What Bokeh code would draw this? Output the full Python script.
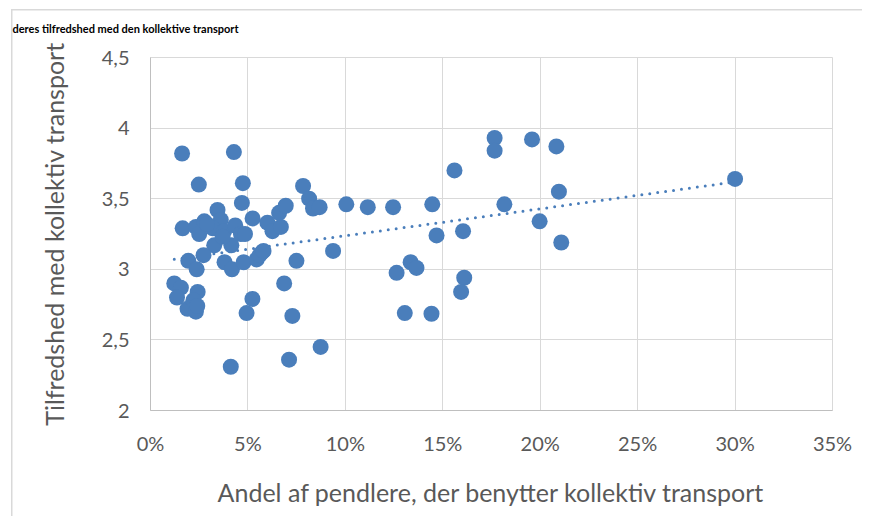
from bokeh.plotting import figure
from bokeh.models import Range1d, FixedTicker
from bokeh.embed import file_html
from bokeh.resources import INLINE
import numpy as np

# Share of commuters using public transport (%)
share_pct = [
    1.62, 4.28, 2.48, 4.74, 4.69, 3.44, 5.24, 1.65, 2.33, 2.76,
    2.50, 3.61, 3.20, 3.78, 4.35, 4.64, 4.85, 3.27, 4.15, 2.72,
    1.94, 2.37, 3.80, 4.18, 4.78, 5.45, 5.72, 6.00, 6.26, 6.69,
    6.60, 6.94, 7.83, 8.14, 8.34, 8.68, 10.05, 11.15, 12.45, 14.46,
    15.60, 17.66, 17.66, 19.58, 20.83, 20.96, 18.16, 19.97, 21.08, 14.68,
    16.04, 13.35, 13.65, 12.63, 16.10, 15.94, 13.05, 14.42, 30.00, 9.37,
    7.49, 6.86, 5.23, 4.93, 7.28, 7.11, 8.73, 4.12, 1.22, 1.56,
    1.36, 2.42, 1.90, 2.33, 2.20, 2.40, 5.60, 3.70, 2.90, 5.80,
]
# Satisfaction with public transport
satisfaction = [
    3.82, 3.83, 3.60, 3.61, 3.47, 3.42, 3.36, 3.29, 3.30, 3.34,
    3.25, 3.35, 3.29, 3.27, 3.31, 3.25, 3.25, 3.17, 3.17, 3.10,
    3.06, 3.00, 3.05, 3.00, 3.05, 3.07, 3.12, 3.33, 3.27, 3.30,
    3.40, 3.45, 3.59, 3.50, 3.43, 3.44, 3.46, 3.44, 3.44, 3.46,
    3.70, 3.93, 3.84, 3.92, 3.87, 3.55, 3.46, 3.34, 3.19, 3.24,
    3.27, 3.05, 3.01, 2.975, 2.94, 2.84, 2.69, 2.685, 3.64, 3.13,
    3.06, 2.90, 2.79, 2.69, 2.67, 2.36, 2.45, 2.31, 2.90, 2.87,
    2.80, 2.84, 2.72, 2.70, 2.78, 2.74, 3.10, 3.23, 3.32, 3.13,
]

x_ticks = [0, 5, 10, 15, 20, 25, 30, 35]
x_tick_labels = ["0%", "5%", "10%", "15%", "20%", "25%", "30%", "35%"]
y_ticks = [2, 2.5, 3, 3.5, 4, 4.5]
y_tick_labels = ["2", "2,5", "3", "3,5", "4", "4,5"]

title_text = "deres tilfredshed med den kollektive transport"
x_title = "Andel af pendlere, der benytter kollektiv transport"
y_title = "Tilfredshed med kollektiv transport"

BLUE = "#4a7ebb"
FONT = "Lato"
GRAY_TXT = "#595959"
BORDER = "#d9d9d9"

p = figure(width=862, height=516, output_backend="svg", toolbar_location=None,
           x_range=Range1d(0, 35), y_range=Range1d(2, 4.5),
           min_border_left=150, min_border_right=30,
           min_border_top=56, min_border_bottom=106,
           background_fill_color="white", border_fill_color=None)

# light outer chart border (left and top edges; the rest runs off the picture)
p.styles = {
    "background": (f"linear-gradient({BORDER}, {BORDER}) 11px 9px / 1.5px 100% no-repeat, "
                   f"linear-gradient({BORDER}, {BORDER}) 11px 9px / 100% 1.5px no-repeat, white"),
}

# chart title in the top strip
p.title.text = title_text
p.title.text_font = FONT
p.title.text_font_style = "bold"
p.title.text_font_size = "11px"
p.title.text_color = "black"
p.title.align = "left"
p.title.vertical_align = "top"
p.title.offset = -138
p.title.standoff = 42

p.outline_line_color = BORDER

p.xaxis.ticker = FixedTicker(ticks=x_ticks)
p.yaxis.ticker = FixedTicker(ticks=y_ticks)
p.xaxis.major_label_overrides = {t: l for t, l in zip(x_ticks, x_tick_labels)}
p.yaxis.major_label_overrides = {t: l for t, l in zip(y_ticks, y_tick_labels)}

for ax in (p.xaxis, p.yaxis):
    ax.axis_line_color = "#bfbfbf"
    ax.axis_line_width = 1
    ax.major_tick_line_color = None
    ax.minor_tick_line_color = None
    ax.major_tick_out = 0
    ax.major_tick_in = 0
    ax.major_label_text_font = FONT
    ax.major_label_text_font_size = "20px"
    ax.major_label_text_color = GRAY_TXT
    ax.axis_label_text_font = FONT
    ax.axis_label_text_font_size = "25px"
    ax.axis_label_text_color = GRAY_TXT
    ax.axis_label_text_font_style = "normal"

p.yaxis.major_label_standoff = 21
p.xaxis.major_label_standoff = 20
p.xaxis.axis_label = x_title
p.yaxis.axis_label = y_title
p.xaxis.axis_label_standoff = 19
p.yaxis.axis_label_standoff = 30

p.xgrid.grid_line_color = BORDER
p.ygrid.grid_line_color = BORDER
p.xgrid.grid_line_width = 1
p.ygrid.grid_line_width = 1

# linear trend line (least squares)
xs = np.array(share_pct)
ys = np.array(satisfaction)
slope, intercept = np.polyfit(xs, ys, 1)
tx = np.array([xs.min(), xs.max()])
ty = intercept + slope * tx
p.line(tx, ty, line_color=BLUE, line_width=3, line_dash="0 8", line_cap="round")

p.scatter(share_pct, satisfaction, size=16, fill_color=BLUE, line_color=None)

open("out.html", "w").write(file_html(p, INLINE))
